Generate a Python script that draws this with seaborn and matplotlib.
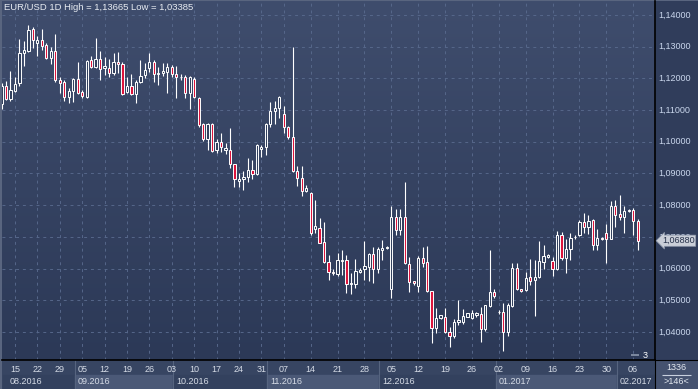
import numpy as np
import pandas as pd
import seaborn as sns
import matplotlib.pyplot as plt
from matplotlib.colors import LinearSegmentedColormap
from matplotlib.patches import Rectangle

sns.set_style("dark")
plt.rcParams['font.family'] = ['Liberation Sans', 'DejaVu Sans']

# daily EUR/USD candles, 10.08.2016 .. 07.02.2017
opens = [1.1118, 1.1176, 1.1135, 1.1161, 1.1184, 1.1279, 1.1286, 1.1355, 1.1313, 1.1321,
         1.1305, 1.1263, 1.1286, 1.1195, 1.1190, 1.1142, 1.1160, 1.1198, 1.1157, 1.1142,
         1.1258, 1.1237, 1.1260, 1.1234, 1.1234, 1.1218, 1.1251, 1.1245, 1.1158, 1.1176,
         1.1151, 1.1190, 1.1211, 1.1234, 1.1253, 1.1214, 1.1216, 1.1221, 1.1235, 1.1214,
         1.1203, 1.1205, 1.1153, 1.1197, 1.1137, 1.1056, 1.1008, 1.1056, 1.0974, 1.0998,
         1.0974, 1.0974, 1.0929, 1.0877, 1.0883, 1.0888, 1.0911, 1.0898, 1.0977, 1.0983,
         1.1055, 1.1098, 1.1106, 1.1088, 1.1046, 1.1014, 1.0909, 1.0885, 1.0846, 1.0839,
         1.0726, 1.0729, 1.0683, 1.0622, 1.0590, 1.0583, 1.0625, 1.0627, 1.0551, 1.0551,
         1.0589, 1.0600, 1.0606, 1.0645, 1.0598, 1.0659, 1.0664, 1.0535, 1.0762, 1.0721,
         1.0762, 1.0615, 1.0560, 1.0546, 1.0635, 1.0621, 1.0530, 1.0412, 1.0443, 1.0448,
         1.0399, 1.0388, 1.0430, 1.0433, 1.0448, 1.0445, 1.0454, 1.0457, 1.0408, 1.0482,
         1.0525, 1.0462, 1.0462, 1.0401, 1.0482, 1.0601, 1.0537, 1.0532, 1.0572, 1.0564,
         1.0572, 1.0622, 1.0637, 1.0625, 1.0598, 1.0706, 1.0634, 1.0661, 1.0700, 1.0706,
         1.0746, 1.0732, 1.0753, 1.0676, 1.0698, 1.0713, 1.0694, 1.0797, 1.0772, 1.0762,
         1.0783, 1.0785, 1.0751]
highs = [1.1186, 1.1192, 1.1223, 1.1205, 1.1323, 1.1319, 1.1367, 1.1363, 1.1334, 1.1355,
         1.1311, 1.1298, 1.1340, 1.1203, 1.1195, 1.1169, 1.1202, 1.1253, 1.1163, 1.1258,
         1.1271, 1.1328, 1.1288, 1.1266, 1.1260, 1.1279, 1.1282, 1.1251, 1.1203, 1.1214,
         1.1195, 1.1258, 1.1248, 1.1281, 1.1258, 1.1237, 1.1250, 1.1250, 1.1242, 1.1239,
         1.1214, 1.1211, 1.1208, 1.1203, 1.1142, 1.1060, 1.1060, 1.1060, 1.1009, 1.1029,
         1.0995, 1.1042, 1.0929, 1.0901, 1.0908, 1.0949, 1.0943, 1.0993, 1.0990, 1.1058,
         1.1127, 1.1129, 1.1145, 1.1113, 1.1050, 1.1300, 1.0924, 1.0924, 1.0864, 1.0843,
         1.0816, 1.0759, 1.0748, 1.0643, 1.0598, 1.0648, 1.0659, 1.0643, 1.0585, 1.0629,
         1.0601, 1.0688, 1.0650, 1.0669, 1.0669, 1.0690, 1.0672, 1.0797, 1.0787, 1.0787,
         1.0874, 1.0638, 1.0562, 1.0640, 1.0667, 1.0671, 1.0530, 1.0477, 1.0453, 1.0477,
         1.0417, 1.0441, 1.0501, 1.0472, 1.0461, 1.0469, 1.0464, 1.0480, 1.0485, 1.0659,
         1.0536, 1.0469, 1.0490, 1.0492, 1.0619, 1.0619, 1.0537, 1.0590, 1.0629, 1.0627,
         1.0687, 1.0675, 1.0646, 1.0636, 1.0719, 1.0717, 1.0692, 1.0713, 1.0706, 1.0753,
         1.0774, 1.0769, 1.0755, 1.0724, 1.0699, 1.0741, 1.0814, 1.0816, 1.0831, 1.0797,
         1.0787, 1.0790, 1.0755]
lows = [1.1105, 1.1132, 1.1130, 1.1158, 1.1177, 1.1239, 1.1284, 1.1295, 1.1271, 1.1290,
        1.1260, 1.1244, 1.1190, 1.1155, 1.1130, 1.1123, 1.1127, 1.1151, 1.1139, 1.1139,
        1.1232, 1.1234, 1.1195, 1.1211, 1.1203, 1.1211, 1.1216, 1.1148, 1.1153, 1.1148,
        1.1123, 1.1184, 1.1200, 1.1221, 1.1190, 1.1179, 1.1208, 1.1153, 1.1205, 1.1139,
        1.1195, 1.1139, 1.1103, 1.1137, 1.1048, 1.1004, 1.0974, 1.0969, 1.0964, 1.0969,
        1.0960, 1.0916, 1.0858, 1.0858, 1.0848, 1.0874, 1.0882, 1.0894, 1.0953, 1.0958,
        1.1048, 1.1056, 1.1074, 1.1027, 1.1008, 1.0906, 1.0862, 1.0830, 1.0843, 1.0706,
        1.0711, 1.0680, 1.0617, 1.0564, 1.0580, 1.0578, 1.0580, 1.0522, 1.0520, 1.0538,
        1.0585, 1.0564, 1.0562, 1.0553, 1.0585, 1.0627, 1.0662, 1.0506, 1.0706, 1.0706,
        1.0615, 1.0527, 1.0548, 1.0525, 1.0604, 1.0525, 1.0366, 1.0396, 1.0440, 1.0396,
        1.0352, 1.0380, 1.0422, 1.0425, 1.0446, 1.0441, 1.0448, 1.0369, 1.0404, 1.0480,
        1.0506, 1.0457, 1.0339, 1.0388, 1.0480, 1.0532, 1.0527, 1.0530, 1.0548, 1.0452,
        1.0569, 1.0598, 1.0634, 1.0577, 1.0596, 1.0627, 1.0587, 1.0627, 1.0693, 1.0703,
        1.0711, 1.0709, 1.0659, 1.0659, 1.0690, 1.0619, 1.0692, 1.0732, 1.0754, 1.0711,
        1.0778, 1.0706, 1.0659]
closes = [1.1176, 1.1136, 1.1163, 1.1181, 1.1279, 1.1290, 1.1353, 1.1321, 1.1321, 1.1303,
          1.1263, 1.1286, 1.1195, 1.1187, 1.1142, 1.1160, 1.1197, 1.1153, 1.1145, 1.1255,
          1.1237, 1.1260, 1.1231, 1.1239, 1.1218, 1.1251, 1.1244, 1.1151, 1.1176, 1.1151,
          1.1188, 1.1208, 1.1227, 1.1253, 1.1213, 1.1218, 1.1223, 1.1235, 1.1213, 1.1205,
          1.1205, 1.1153, 1.1203, 1.1140, 1.1053, 1.1008, 1.1056, 1.0972, 1.0998, 1.0983,
          1.0982, 1.0930, 1.0883, 1.0883, 1.0888, 1.0911, 1.0897, 1.0990, 1.0985, 1.1055,
          1.1097, 1.1106, 1.1142, 1.1046, 1.1014, 1.0909, 1.0885, 1.0846, 1.0853, 1.0711,
          1.0734, 1.0682, 1.0620, 1.0590, 1.0585, 1.0627, 1.0627, 1.0551, 1.0555, 1.0593,
          1.0596, 1.0608, 1.0646, 1.0598, 1.0662, 1.0665, 1.0669, 1.0762, 1.0721, 1.0762,
          1.0617, 1.0559, 1.0556, 1.0635, 1.0619, 1.0530, 1.0412, 1.0443, 1.0453, 1.0399,
          1.0388, 1.0430, 1.0437, 1.0450, 1.0459, 1.0461, 1.0459, 1.0408, 1.0485, 1.0525,
          1.0514, 1.0463, 1.0401, 1.0485, 1.0601, 1.0535, 1.0530, 1.0569, 1.0562, 1.0572,
          1.0625, 1.0640, 1.0643, 1.0598, 1.0706, 1.0634, 1.0661, 1.0696, 1.0701, 1.0748,
          1.0732, 1.0751, 1.0676, 1.0695, 1.0693, 1.0694, 1.0797, 1.0769, 1.0762, 1.0782,
          1.0784, 1.0750, 1.0688]

price_ticks = [1.04, 1.05, 1.06, 1.07, 1.08, 1.09, 1.10, 1.11, 1.12, 1.13, 1.14]
last_price = 1.0688
title = "EUR/USD 1D High = 1,13665 Low = 1,03385"
corner_top = "1336"
corner_bottom = ">146<"

# trading days: weekdays first, then the feed adds Sunday bars from mid November
dates = list(pd.bdate_range("2016-08-10", "2016-11-11")) + \
    [d for d in pd.date_range("2016-11-13", "2017-02-07") if d.dayofweek != 5]

df = pd.DataFrame({"date": dates, "open": opens, "high": highs, "low": lows, "close": closes})
df["x"] = np.arange(len(df))
df["up"] = df.close >= df.open
df["bottom"] = df[["open", "close"]].min(axis=1)
df["height"] = (df.open - df.close).abs().clip(lower=0.00004)

mondays = df[df.date.dt.dayofweek == 0]
month_start = df.groupby(df.date.dt.to_period("M")).x.min()

W, H = 698, 389
xlim = ((2 - 1.5) / 4.48, (655 - 1.5) / 4.48)
ylim = (1.14 - 345 / 3170, 1.14 + 14 / 3170)

fig = plt.figure(figsize=(W / 100, H / 100), dpi=100)
fig.patch.set_facecolor("#59657f")

# main price panel
ax = fig.add_axes([2 / W, 29 / H, 653 / W, 359 / H])
bg = LinearSegmentedColormap.from_list("bg", ["#3f4d6d", "#2c3957"])
ax.imshow(np.linspace(0, 1, 256).reshape(-1, 1), cmap=bg, aspect="auto",
          extent=[xlim[0], xlim[1], ylim[0], ylim[1]], origin="upper", zorder=0)
ax.set_xlim(*xlim)
ax.set_ylim(*ylim)
ax.set_xticks(mondays.x)
ax.set_yticks(price_ticks)
ax.set_axisbelow(True)
ax.grid(True, color="#56678a", linestyle=(0, (3, 4)), linewidth=0.7)
ax.tick_params(length=0, labelbottom=False, labelleft=False)
for s in ax.spines.values():
    s.set_visible(False)

ax.vlines(df.x, df.low, df.high, color="white", lw=0.8, zorder=3)
ax.bar(df.x, df.height, bottom=df.bottom, width=0.5,
       color=np.where(df.up, "#34425f", "#dc143c"),
       edgecolor="white", linewidth=0.7, zorder=4)

ax.text(143.6, 1.0327, "3", color="white", fontsize=6.5, va="center", ha="center", zorder=5)
ax.hlines(1.0327, 140.6, 142.2, color="#8a96ac", lw=1.2, zorder=5)

fig.text(4 / W, 1 - 8 / H, title, color="#e8ecf2", fontsize=6.8, va="center", ha="left")

# right price scale
axr = fig.add_axes([655 / W, 29 / H, 43 / W, 359 / H])
axr.set_facecolor("#303d5b")
axr.set_xlim(0, 43)
axr.set_ylim(*ylim)
axr.set_xticks([])
axr.set_yticks([])
for name, s in axr.spines.items():
    s.set_visible(name == "left")
axr.spines["left"].set_color("black")
axr.spines["left"].set_linewidth(1.2)
for p in price_ticks:
    axr.text(3, p, f"{p:.5f}".replace(".", ","), color="#c9d6ec",
             fontsize=6.5, va="center", ha="left")
axr.text(7, last_price, f"{last_price:.5f}".replace(".", ","), color="#26314a",
         fontsize=6.5, va="center", ha="left", zorder=5,
         bbox=dict(boxstyle="larrow,pad=0.12", fc="#c9ced8", ec="#8d97aa", lw=0.5))

# date scale
axd = fig.add_axes([2 / W, 0, 653 / W, 29 / H])
axd.set_facecolor("#374562")
axd.set_xlim(*xlim)
axd.set_ylim(0, 29)
axd.set_xticks([])
axd.set_yticks([])
for name, s in axd.spines.items():
    s.set_visible(name == "top")
axd.spines["top"].set_color("black")
axd.spines["top"].set_linewidth(1.2)

edges = list(month_start.values) + [xlim[1] + 1]
for k, (per, start) in enumerate(month_start.items()):
    left = max(start + 0.3, xlim[0])
    right = edges[k + 1] + 0.3
    shade = "#4b5977" if k % 2 == 1 else "#33415e"
    axd.add_patch(Rectangle((left, 0), right - left, 14, color=shade, zorder=1))
    if k > 0:
        axd.vlines(left, 0, 29, color="#56647f", lw=0.8, zorder=2)
    lx = left + 0.7 if k > 0 else xlim[0] + 1.8
    axd.text(lx, 7, per.strftime("%m.%Y"), color="#d5dbe6", fontsize=6.5,
             va="center", ha="left", zorder=3)
for x, d in zip(mondays.x, mondays.date):
    axd.text(x, 20, f"{d.day:02d}", color="#d5dbe6", fontsize=6.5,
             va="center", ha="center", zorder=3)

# corner box
axc = fig.add_axes([655 / W, 0, 43 / W, 29 / H])
axc.set_facecolor("#45526f")
axc.set_xlim(0, 43)
axc.set_ylim(0, 29)
axc.set_xticks([])
axc.set_yticks([])
for name, s in axc.spines.items():
    s.set_visible(name in ("top", "left"))
    s.set_color("black")
axc.text(21.5, 22, corner_top, color="#e3e8f0", fontsize=6.5, ha="center", va="center")
axc.hlines(14.5, 7, 36, color="#c8d0de", lw=0.8)
axc.text(21.5, 7.5, corner_bottom, color="#e3e8f0", fontsize=6.5, ha="center", va="center")

plt.savefig("out.png", dpi=100, facecolor=fig.get_facecolor())
